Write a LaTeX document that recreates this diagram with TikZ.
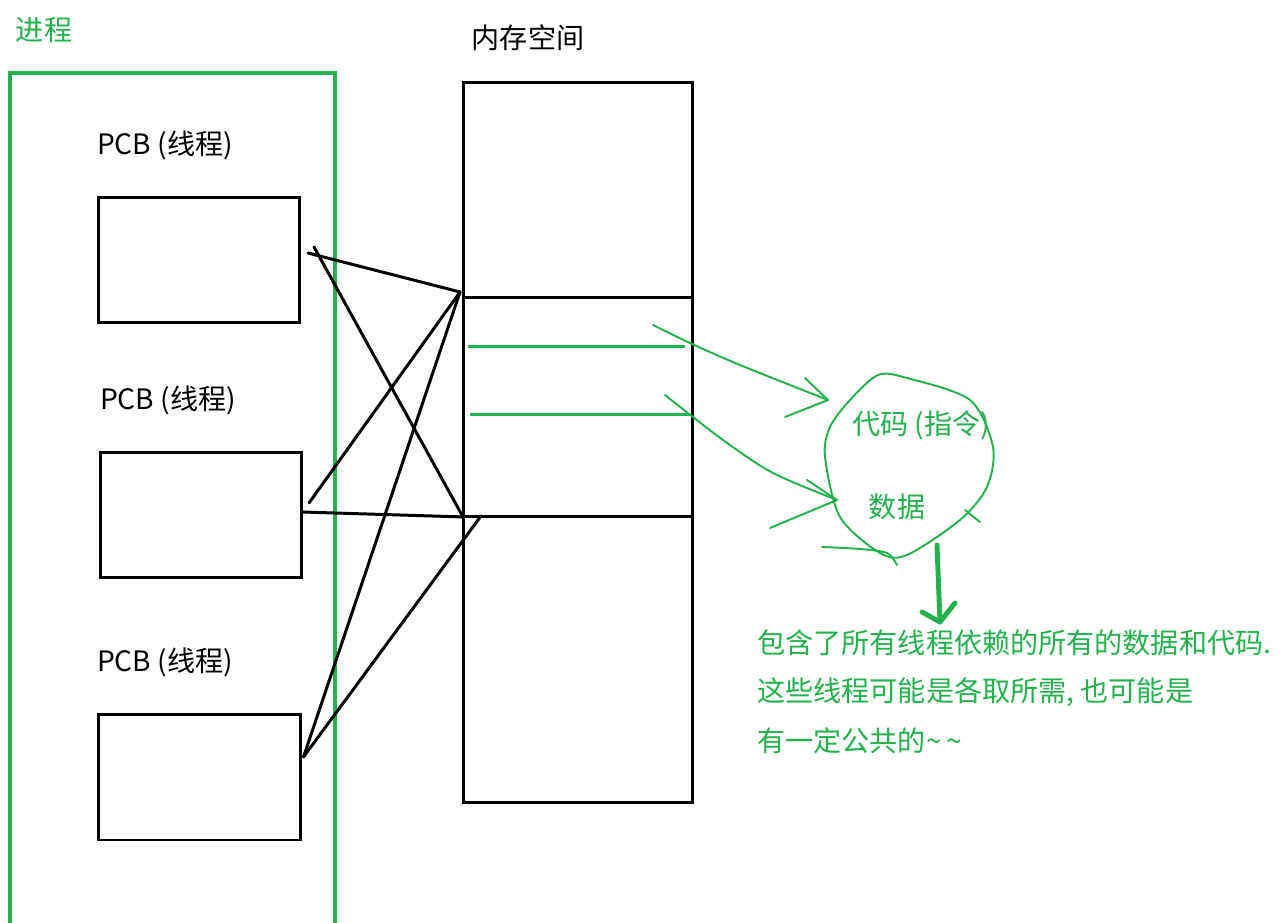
\documentclass[tikz,border=0pt]{standalone}
\usepackage{fontspec}
\setmainfont{Noto Sans CJK SC}
\usetikzlibrary{positioning,calc}
\definecolor{paintgreen}{RGB}{34,177,76}
\tikzset{
  wire/.style={line width=1.7pt, line cap=round},
  pcbbox/.style={draw, line width=1.7pt, minimum width=4.04cm, minimum height=2.52cm, inner sep=0, outer sep=0},
  memblock/.style={draw, line width=1.7pt, minimum width=4.6cm, inner sep=0, outer sep=0},
  pen/.style={paintgreen, line width=1.1pt, line cap=round, line join=round},
  tag/.style={font=\fontsize{16}{18}\selectfont, inner sep=0},
  notetext/.style={tag, anchor=west, text=paintgreen},
}

\begin{document}
\begin{tikzpicture}[x=0.02cm,y=-0.02cm]
\useasboundingbox (0,0) rectangle (1286,923);

% process frame
\draw[paintgreen, line width=2pt] (10,923) |- (335,73) -- (335,923);
\node[tag, text=paintgreen] (proc) at (44,30) {进程};

% threads
\node[pcbbox] (pcb1) at (199,260) {};
\node[pcbbox] (pcb2) at (201,515) {};
\node[pcbbox] (pcb3) at (199.5,777) {};
\node[tag] (lab1) at (165,145) {PCB (线程)};
\node[tag] (lab2) at (168,400) {PCB (线程)};
\node[tag] (lab3) at (165,662) {PCB (线程)};

% memory
\node[tag] (memlab) at (528,38) {内存空间};
\node[memblock, minimum height=4.32cm] (memtop) at (578,190) {};
\node[memblock, minimum height=4.38cm, below=0pt of memtop] (memmid) {};
\node[memblock, minimum height=5.72cm, below=0pt of memmid] (membot) {};
\draw[paintgreen, line width=1.7pt] ($(memmid.north west)+(5,49)$) -- ++(217,0);
\draw[paintgreen, line width=1.7pt] ($(memmid.north west)+(7,117)$) -- ++(220,0);

\coordinate (hubA) at ($(memmid.north west)+(-3,-6)$);
\coordinate (hubB) at (memmid.south west);
\coordinate (hubC) at ($(memmid.south west)+(18,-1)$);

% threads share the memory
\draw[wire] ($(pcb1.east)+(8,-7)$) -- (hubA);
\draw[wire] ($(pcb1.east)+(14,-13)$) -- (hubB);
\draw[wire] ($(pcb2.east)+(7,-12)$) -- (hubA);
\draw[wire] ($(pcb2.east)+(0,-3)$) -- (hubB);
\draw[wire] ($(pcb3.east)+(3,-20)$) -- (hubA);
\draw[wire] ($(pcb3.east)+(3,-20)$) -- (hubC);

% code and data
\draw[pen] plot[smooth cycle] coordinates {(878,375) (907,378) (970,400) (993,447) (987,487) (960,520)
  (907,555) (880,553) (840,517) (825,457) (830,427) (850,400)};
\node[tag, text=paintgreen] (code) at (921,425) {代码 (指令)};
\node[tag, text=paintgreen] (data) at (897,507) {数据};
\draw[pen] plot[smooth] coordinates {(653,325) (690,343) (740,365) (828,400)};
\draw[pen] (805,378) -- (828,400) -- (785,417);
\draw[pen] plot[smooth] coordinates {(665,395) (723,440) (773,473) (837,500)};
\draw[pen] (807,480) -- (837,500) -- (770,528);
\draw[pen] (965,510) -- (980,522);
\draw[pen] plot[smooth] coordinates {(822,547) (860,549) (887,553) (897,565)};
\coordinate (downA) at (937,545);
\coordinate (downB) at (940,622);
\draw[paintgreen, line width=2.8pt, line cap=round, line join=round] (downA) -- (downB);
\draw[paintgreen, line width=2.8pt, line cap=round, line join=round] (922,612) -- (downB) -- (955,603);

\node[notetext] (note1) at (757,643) {包含了所有线程依赖的所有的数据和代码.};
\node[notetext] (note2) at (757,692) {这些线程可能是各取所需, 也可能是};
\node[notetext] (note3) at (757,741) {有一定公共的\char"7E\,\char"7E};
\end{tikzpicture}
\end{document}
